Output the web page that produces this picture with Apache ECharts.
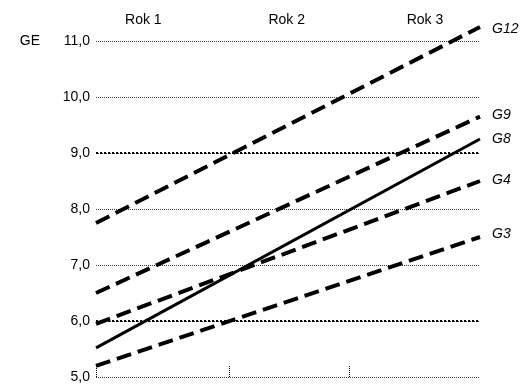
<!DOCTYPE html>
<html><head><meta charset="utf-8">
<script src="https://cdn.jsdelivr.net/npm/echarts@6/dist/echarts.min.js"></script>
<style>html,body{margin:0;padding:0;background:#fff}#c{width:523px;height:384px}</style>
</head><body><div id="c"></div>
<script>
// Data
const categories = ['Rok 1', 'Rok 2', 'Rok 3'];
const seriesNames = ['G12', 'G9', 'G8', 'G4', 'G3'];
const startValues = [7.75, 6.5, 5.52, 5.95, 5.2];
const endValues = [11.25, 9.65, 9.25, 8.5, 7.5];
const yTicks = [5, 6, 7, 8, 9, 10, 11];
const boldGridValues = [6, 9];

const xStart = 0, xEnd = 3;
const catLabelPos = [0.37, 1.49, 2.57];
const bottomTickPos = [0, 1.04, 1.98];
const labelOffsets = [[0, 2], [0, -1], [0, 0], [0, -1], [0, -3]];

const chart = echarts.init(document.getElementById('c'));
const FONT = 'Liberation Sans, Arial, sans-serif';

const series = seriesNames.map((name, i) => ({
  name: name,
  type: 'line',
  xAxisIndex: 0,
  data: [[xStart, startValues[i]], [xEnd, endValues[i]]],
  symbol: 'none',
  clip: false,
  silent: true,
  animation: false,
  lineStyle: name === 'G8'
    ? { color: '#000', width: 3, type: 'solid' }
    : { color: '#000', width: 4, type: [15, 7] },
  endLabel: {
    show: true,
    formatter: name,
    color: '#000',
    fontStyle: 'italic',
    fontFamily: FONT,
    fontSize: 14,
    distance: 12,
    offset: labelOffsets[i]
  },
  z: 5
}));

series.push({
  type: 'line',
  data: [],
  silent: true,
  animation: false,
  markLine: {
    symbol: 'none',
    silent: true,
    label: { show: false },
    lineStyle: { color: '#000', width: 2, type: 'dotted' },
    data: boldGridValues.map(v => ({ yAxis: v }))
  },
  z: 2
});

chart.setOption({
  animation: false,
  backgroundColor: '#fff',
  grid: { left: 96, right: 43, top: 41, bottom: 4, containLabel: false },
  xAxis: [
    {
      type: 'value', position: 'bottom', min: xStart, max: xEnd,
      axisLine: { show: false },
      splitLine: { show: false },
      axisLabel: { show: false },
      axisTick: {
        show: true, inside: true, length: 12, customValues: bottomTickPos,
        lineStyle: { color: '#000', width: 1, type: 'dotted' }
      }
    },
    {
      type: 'value', position: 'top', min: xStart, max: xEnd,
      axisLine: { show: false },
      splitLine: { show: false },
      axisTick: { show: false },
      axisLabel: {
        show: true, customValues: catLabelPos, margin: 14,
        color: '#000', fontSize: 14, fontFamily: FONT,
        formatter: function (v) {
          for (let i = 0; i < catLabelPos.length; i++) {
            if (Math.abs(catLabelPos[i] - v) < 1e-6) return categories[i];
          }
          return '';
        }
      }
    }
  ],
  yAxis: {
    type: 'value', min: yTicks[0], max: yTicks[yTicks.length - 1], interval: 1,
    name: 'GE', nameLocation: 'end', nameGap: 0,
    nameTextStyle: { color: '#000', fontSize: 14, fontFamily: FONT, align: 'right', verticalAlign: 'middle', padding: [0, 56, 0, 0] },
    axisLine: { show: false },
    axisTick: { show: false },
    axisLabel: {
      color: '#000', fontSize: 14, fontFamily: FONT, margin: 6,
      formatter: v => v.toFixed(1).replace('.', ',')
    },
    splitLine: { show: true, lineStyle: { color: '#333', width: 1, type: 'dotted' } }
  },
  series: series
});
</script></body></html>
